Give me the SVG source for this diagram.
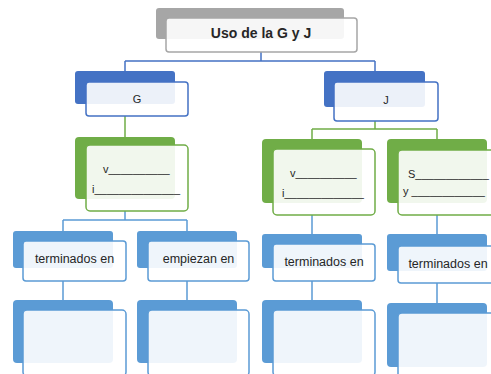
<svg xmlns="http://www.w3.org/2000/svg" width="491" height="374" viewBox="0 0 491 374">
<style>
.t{font-family:"Liberation Sans",Arial,sans-serif;fill:#262626}
.front{fill:#fff;fill-opacity:0.9;stroke-width:1.5}
.gray{fill:#a6a6a6}
.b1{fill:#4472c4}
.gr{fill:#70ad47}
.b2{fill:#5b9bd5}
.sg{stroke:#a6a6a6}
.s1{stroke:#4472c4}
.sgr{stroke:#70ad47}
.s2{stroke:#5b9bd5}
.c{fill:none;stroke-width:1.5}
</style>
<rect width="491" height="374" fill="#fff"/>
<g id="connectors">
<path class="c s1" d="M261 52V61M125 61H375M125 61V71M375 61V71"/>
<path class="c sgr" d="M125 116V137M375 121V129M312 129H437M312 129V139M437 129V139" stroke="#8cc068"/>
<path class="c s2" d="M125 211V220M63 220H187M63 220V231M187 220V231M312 215V234M437 215V234M63 281V300M187 281V300M312 281V300M437 283V303"/>
</g>
<g id="title">
<rect class="gray" x="156" y="8" width="188" height="31" rx="3"/>
<rect class="front sg" x="166" y="18" width="191" height="34" rx="3"/>
<text class="t" x="261" y="38" font-size="14" font-weight="bold" text-anchor="middle">Uso de la G y J</text>
</g>
<g id="g">
<rect class="b1" x="75" y="71" width="100" height="33" rx="3"/>
<rect class="front s1" x="86" y="82" width="102" height="34" rx="3"/>
<text class="t" x="137" y="103" font-size="11" text-anchor="middle">G</text>
</g>
<g id="j">
<rect class="b1" x="324" y="71" width="101" height="36" rx="3"/>
<rect class="front s1" x="334" y="82" width="104" height="39" rx="3"/>
<text class="t" x="386" y="104" font-size="11" text-anchor="middle">J</text>
</g>
<g id="g-rules">
<rect class="gr" x="75" y="137" width="100" height="62" rx="4"/>
<rect class="front sgr" x="86" y="145" width="102" height="66" rx="4"/>
<text class="t" x="103" y="173" font-size="11">v__________</text>
<text class="t" x="92" y="193" font-size="11">i______________</text>
</g>
<g id="j-rules-1">
<rect class="gr" x="262" y="139" width="100" height="64" rx="4"/>
<rect class="front sgr" x="273" y="149" width="102" height="66" rx="4"/>
<text class="t" x="290" y="177" font-size="11">v__________</text>
<text class="t" x="282" y="197" font-size="11">i_____________</text>
</g>
<g id="j-rules-2">
<rect class="gr" x="387" y="139" width="100" height="64" rx="4"/>
<rect class="front sgr" x="398" y="150" width="102" height="65" rx="4"/>
<text class="t" x="408" y="178" font-size="11">S____________</text>
<text class="t" x="403" y="195" font-size="11">y ____________</text>
</g>
<g id="g-end">
<rect class="b2" x="13" y="231" width="100" height="37" rx="3"/>
<rect class="front s2" x="23" y="241" width="103" height="40" rx="3"/>
<text class="t" x="74.5" y="263" font-size="12.5" text-anchor="middle">terminados en</text>
</g>
<g id="g-start">
<rect class="b2" x="137" y="231" width="100" height="37" rx="3"/>
<rect class="front s2" x="148" y="241" width="101" height="40" rx="3"/>
<text class="t" x="198.5" y="263" font-size="12.5" text-anchor="middle">empiezan en</text>
</g>
<g id="j-end-1">
<rect class="b2" x="262" y="234" width="100" height="34" rx="3"/>
<rect class="front s2" x="273" y="244" width="102" height="37" rx="3"/>
<text class="t" x="324" y="266" font-size="12.5" text-anchor="middle">terminados en</text>
</g>
<g id="j-end-2">
<rect class="b2" x="387" y="234" width="100" height="37" rx="3"/>
<rect class="front s2" x="398" y="246" width="102" height="37" rx="3"/>
<text class="t" x="448" y="268" font-size="12.5" text-anchor="middle">terminados en</text>
</g>
<g id="blank-1">
<rect class="b2" x="13" y="300" width="100" height="63" rx="4"/>
<rect class="front s2" x="23" y="310" width="103" height="66" rx="4"/>
</g>
<g id="blank-2">
<rect class="b2" x="137" y="300" width="100" height="63" rx="4"/>
<rect class="front s2" x="148" y="310" width="101" height="66" rx="4"/>
</g>
<g id="blank-3">
<rect class="b2" x="262" y="300" width="100" height="63" rx="4"/>
<rect class="front s2" x="273" y="310" width="102" height="66" rx="4"/>
</g>
<g id="blank-4">
<rect class="b2" x="387" y="303" width="100" height="64" rx="4"/>
<rect class="front s2" x="398" y="313" width="102" height="66" rx="4"/>
</g>
</svg>
